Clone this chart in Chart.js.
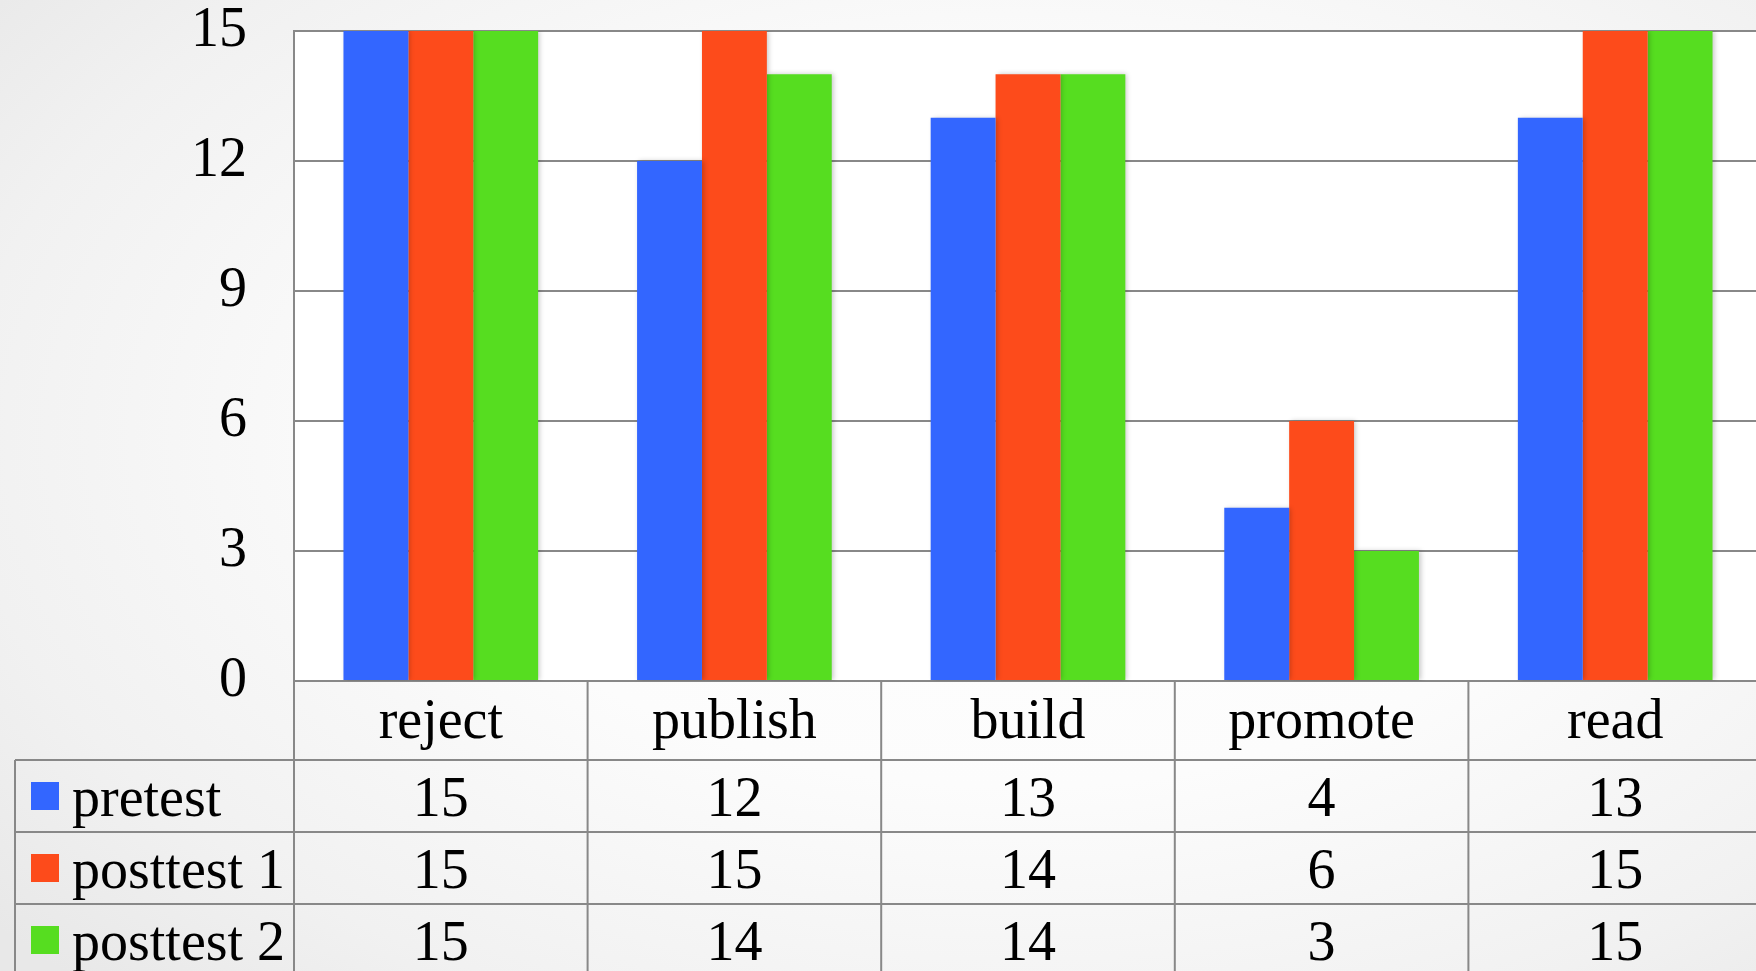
<!DOCTYPE html>
<html><head><meta charset="utf-8">
<script src="https://cdn.jsdelivr.net/npm/chart.js@4"></script>
<style>
html,body{margin:0;padding:0;overflow:hidden;width:1756px;height:971px;}
body{background: radial-gradient(ellipse 75% 80% at 58% 45%, #ffffff 0%, #fcfcfc 45%, #f1f1f1 80%, #e8e8e8 100%);}
#wrap{position:absolute;left:0;top:0;width:1800px;height:971px;}
</style></head><body>
<div id="wrap"><canvas id="c" width="1800" height="971"></canvas></div>
<script>
const categories = ['reject', 'publish', 'build', 'promote', 'read'];
const seriesNames = ['pretest', 'posttest 1', 'posttest 2'];
const pretest = [15, 12, 13, 4, 13];
const posttest1 = [15, 15, 14, 6, 15];
const posttest2 = [15, 14, 14, 3, 15];
const yTickValues = [0, 3, 6, 9, 12, 15];

const colors = ['#3366FF', '#FD4B1B', '#56DD20'];
const gridColor = '#888888';
const FONT = "'Liberation Serif', 'Times New Roman', serif";
const FS = 56;

const plotBg = {
  id: 'plotBg',
  beforeDraw(chart) {
    const {ctx, chartArea: a} = chart;
    ctx.save();
    ctx.fillStyle = '#ffffff';
    ctx.fillRect(a.left, a.top, a.right - a.left, a.bottom - a.top);
    ctx.restore();
  }
};

const barShadow = {
  id: 'barShadow',
  beforeDatasetsDraw(chart) {
    const ctx = chart.ctx;
    ctx.save();
    ctx.shadowColor = 'rgba(0,0,0,0.22)';
    ctx.shadowBlur = 5;
    ctx.shadowOffsetX = 2;
    ctx.shadowOffsetY = 0;
  },
  afterDatasetsDraw(chart) {
    chart.ctx.restore();
  }
};

const dataTable = {
  id: 'dataTable',
  afterDraw(chart) {
    const {ctx, chartArea: a, scales: {x}} = chart;
    const n = categories.length;
    const cw = (a.right - a.left) / n;
    const H = chart.height;
    const legendLeft = 15;
    const headerBottom = a.bottom + 79;
    const rowH = 72;
    const series = [pretest, posttest1, posttest2];
    ctx.save();
    ctx.strokeStyle = gridColor;
    ctx.lineWidth = 2;
    ctx.beginPath();
    ctx.moveTo(a.left, a.top);
    ctx.lineTo(a.left, H);
    ctx.stroke();
    for (let i = 1; i <= n; i++) {
      const xx = a.left + i * cw;
      ctx.beginPath();
      ctx.moveTo(xx, a.bottom);
      ctx.lineTo(xx, H);
      ctx.stroke();
    }
    ctx.beginPath();
    ctx.moveTo(legendLeft, headerBottom);
    ctx.lineTo(legendLeft, H);
    ctx.stroke();
    for (let r = 0; r <= series.length; r++) {
      const yy = headerBottom + r * rowH;
      ctx.beginPath();
      ctx.moveTo(legendLeft, yy);
      ctx.lineTo(a.right + 40, yy);
      ctx.stroke();
    }
    ctx.fillStyle = '#000';
    ctx.font = FS + 'px ' + FONT;
    ctx.textBaseline = 'alphabetic';
    for (let r = 0; r < series.length; r++) {
      const cy = headerBottom + r * rowH + rowH / 2;
      const base = cy + 20;
      ctx.fillStyle = colors[r];
      ctx.fillRect(31, cy - 14, 28, 28);
      ctx.fillStyle = '#000';
      ctx.textAlign = 'left';
      ctx.fillText(seriesNames[r], 72, base);
      ctx.textAlign = 'center';
      for (let i = 0; i < n; i++) {
        ctx.fillText(String(series[r][i]), x.getPixelForValue(i), base);
      }
    }
    ctx.restore();
  }
};

new Chart(document.getElementById('c'), {
  type: 'bar',
  data: {
    labels: categories,
    datasets: [
      {label: seriesNames[0], data: pretest, backgroundColor: colors[0]},
      {label: seriesNames[1], data: posttest1, backgroundColor: colors[1]},
      {label: seriesNames[2], data: posttest2, backgroundColor: colors[2]}
    ]
  },
  options: {
    responsive: false,
    animation: false,
    devicePixelRatio: 1,
    layout: {padding: {top: 31, right: 38, left: 0, bottom: 0}},
    datasets: {bar: {barPercentage: 1, categoryPercentage: 0.663, borderWidth: 0}},
    plugins: {legend: {display: false}, tooltip: {enabled: false}},
    scales: {
      x: {
        grid: {display: false, drawTicks: false},
        border: {display: true, color: gridColor, width: 2},
        ticks: {color: '#000', font: {family: FONT, size: FS, lineHeight: 1}, padding: 14, maxRotation: 0},
        afterFit(s) { s.height = 290; }
      },
      y: {
        min: 0, max: 15,
        afterBuildTicks(s) { s.ticks = yTickValues.map(v => ({value: v})); },
        grid: {color: gridColor, lineWidth: 2, drawTicks: false},
        border: {display: true, color: gridColor, width: 2},
        ticks: {color: '#000', font: {family: FONT, size: FS, lineHeight: 1}, padding: 47},
        afterFit(s) { s.width = 294; s.paddingTop = 0; s.paddingBottom = 0; }
      }
    }
  },
  plugins: [plotBg, barShadow, dataTable]
});
</script>
</body></html>
